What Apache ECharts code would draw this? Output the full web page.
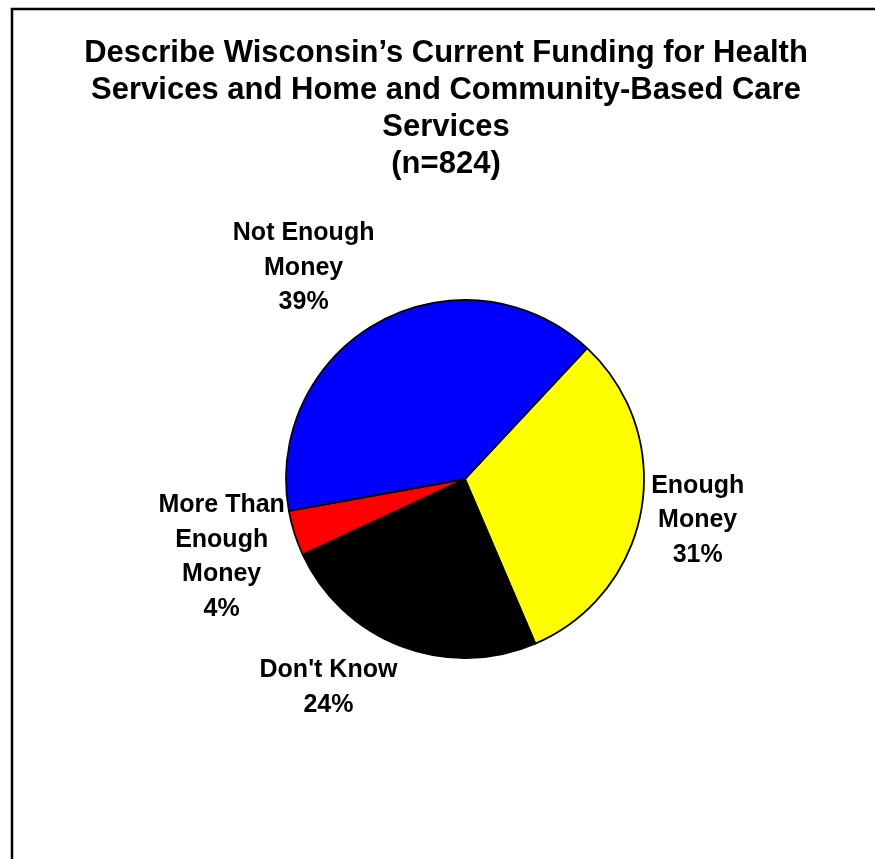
<!DOCTYPE html>
<html><head><meta charset="utf-8">
<script src="https://cdn.jsdelivr.net/npm/echarts@6/dist/echarts.min.js"></script>
<style>html,body{margin:0;padding:0;background:#fff}#c{width:875px;height:859px}</style>
</head><body><div id="c"></div>
<script>
// ---- data ----
const categories = ['Enough Money', "Don't Know", 'More Than Enough Money', 'Not Enough Money'];
const labelNames = ['Enough\nMoney', "Don't Know", 'More Than\nEnough\nMoney', 'Not Enough\nMoney'];
const values = [31, 24, 4, 39];
const colors = ['#FFFF00', '#000000', '#FF0000', '#0000FF'];
const titleText = 'Describe Wisconsin\u2019s Current Funding for Health\nServices and Home and Community-Based Care\nServices\n(n=824)';

// ---- layout ----
const CX = 465, CY = 479, R = 179, START = 47, GAP = 10;
const total = values.reduce((a, b) => a + b, 0);
const midAngles = [];
let acc = 0;
values.forEach(v => {
  const a0 = START - acc / total * 360;
  acc += v;
  const a1 = START - acc / total * 360;
  midAngles.push((a0 + a1) / 2);
});

const chart = echarts.init(document.getElementById('c'), null, {renderer: 'canvas'});
chart.setOption({
  animation: false,
  backgroundColor: '#fff',
  title: {
    text: titleText,
    left: 446, top: 35, textAlign: 'center', padding: 0,
    textStyle: {fontFamily: 'Liberation Sans, Arial, sans-serif', fontWeight: 'bold', fontSize: 31, lineHeight: 37, color: '#000'}
  },
  graphic: [{
    type: 'rect', silent: true, z: 100,
    shape: {x: 12, y: 9, width: 920, height: 900},
    style: {fill: null, stroke: '#000', lineWidth: 2.5}
  }],
  series: [{
    type: 'pie',
    center: [CX, CY],
    radius: R,
    startAngle: START,
    clockwise: true,
    avoidLabelOverlap: false,
    itemStyle: {borderColor: '#000', borderWidth: 1.8},
    emphasis: {disabled: true},
    label: {
      show: true, position: 'outside',
      fontFamily: 'Liberation Sans, Arial, sans-serif', fontWeight: 'bold', fontSize: 25, lineHeight: 34.5, color: '#000',
      formatter: p => labelNames[p.dataIndex] + '\n' + p.value + '%'
    },
    labelLine: {show: false},
    labelLayout: function (p) {
      const th = midAngles[p.dataIndex] * Math.PI / 180;
      const ux = Math.cos(th), uy = -Math.sin(th);
      const ax = CX + (R + GAP) * ux, ay = CY + (R + GAP) * uy;
      const w = p.labelRect.width, h = p.labelRect.height;
      const fx = Math.max(-1, Math.min(1, ux * 3));
      return {x: ax + fx * w / 2, y: ay + uy * h / 2, align: 'center', verticalAlign: 'middle'};
    },
    data: categories.map((c, i) => ({name: c, value: values[i], itemStyle: {color: colors[i]}}))
  }]
});
</script></body></html>
